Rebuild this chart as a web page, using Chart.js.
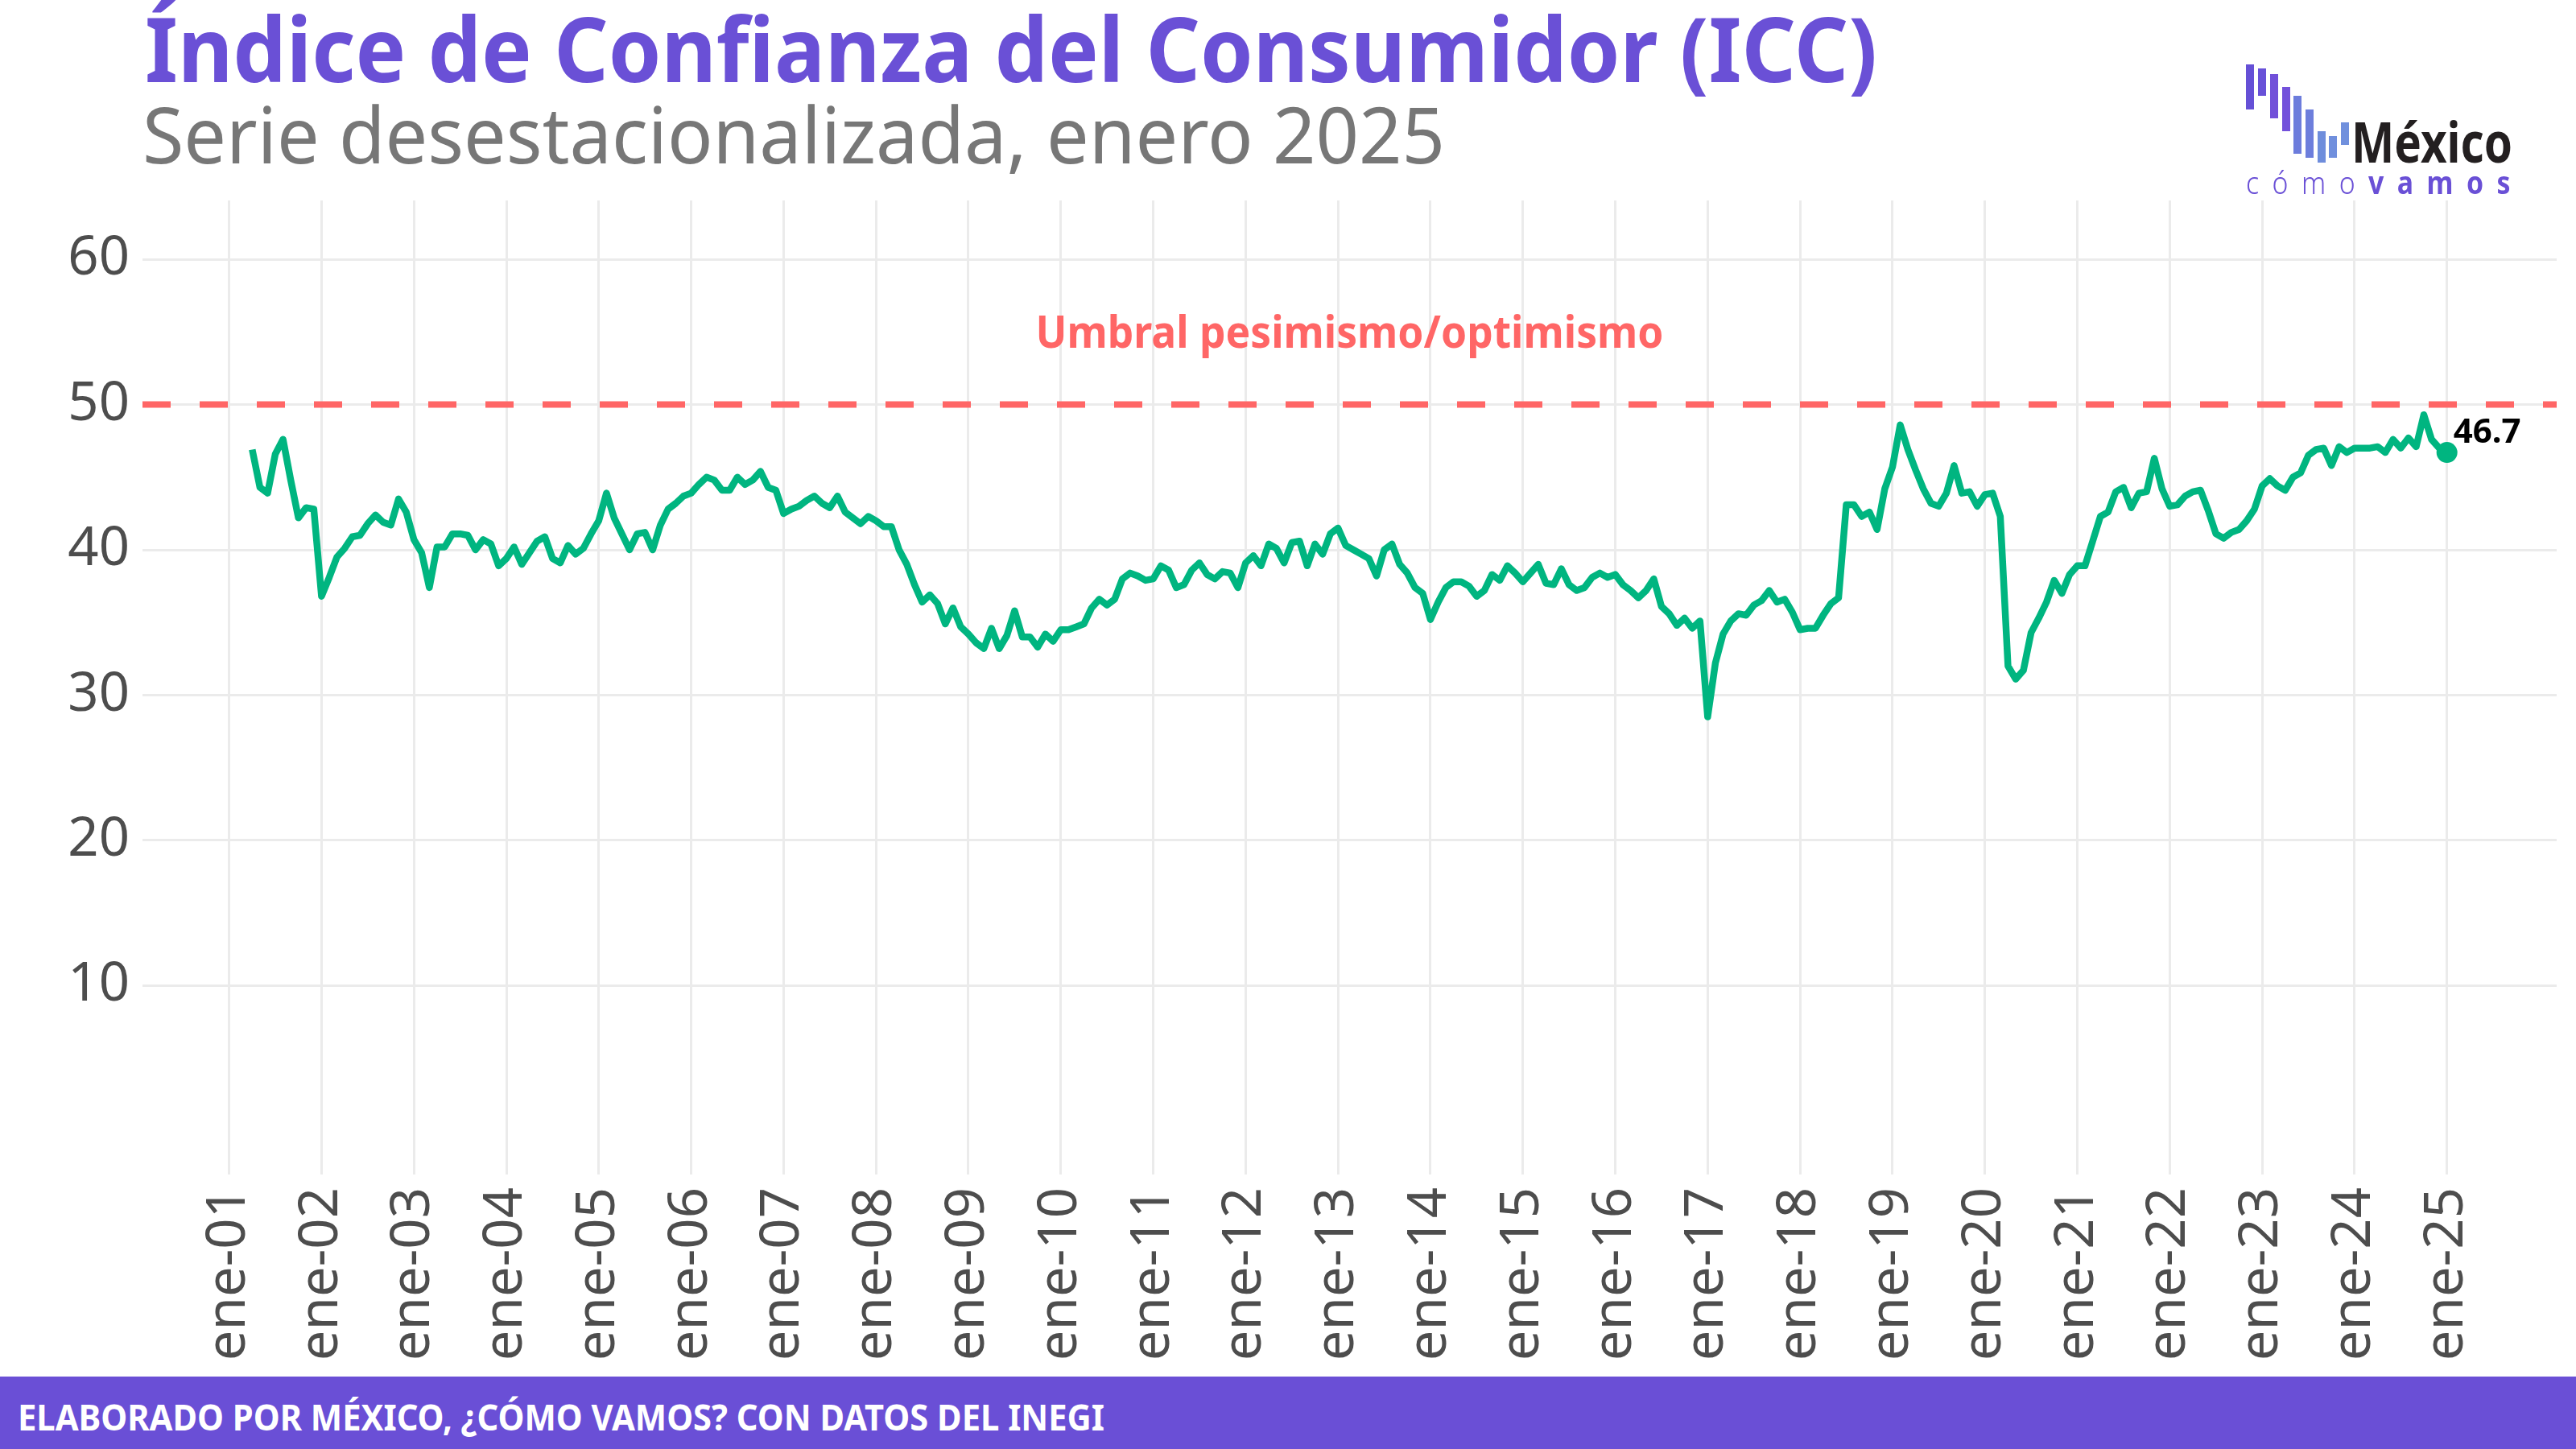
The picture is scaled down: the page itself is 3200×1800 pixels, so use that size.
<!DOCTYPE html>
<html lang="es">
<head>
<meta charset="utf-8">
<title>Índice de Confianza del Consumidor (ICC)</title>
<script src="https://cdn.jsdelivr.net/npm/chart.js@4.4.1/dist/chart.umd.min.js"></script>
<style>
  html, body { margin: 0; padding: 0; background: #fff; }
  body { width: 3200px; height: 1800px; position: relative; overflow: hidden; font-family: "Noto Sans", sans-serif; }
  #chart { position: absolute; left: 0; top: 0; }
  .txt { position: absolute; white-space: nowrap; line-height: 1; transform-origin: left center; }
  #title { left: 180px; top: 3px; font-size: 112px; font-weight: 700; color: #6a50d6; }
  #subtitle { left: 177px; top: 117px; font-size: 97px; font-weight: 400; color: #777; }
  #footer { position: absolute; left: 0; top: 1710px; width: 3200px; height: 90px; background: #6a4fd6; }
  #source { left: 22px; top: 1737px; font-size: 45px; font-weight: 700; color: #fff; }
  .bar { position: absolute; width: 10px; }
  #mexico { left: 2921px; top: 140px; font-size: 70px; font-weight: 700; color: #231f20; }
  #como { left: 2790px; top: 206px; font-size: 39px; color: #6a50d6; letter-spacing: 19px; }
  #como b { font-weight: 700; }
  #como span { font-weight: 300; }
</style>
</head>
<body>
<canvas id="chart" width="3200" height="1710"></canvas>

<div class="txt" id="title">Índice de Confianza del Consumidor (ICC)</div>
<div class="txt" id="subtitle">Serie desestacionalizada, enero 2025</div>

<div class="bar" style="left:2790px;top:80px;height:56px;background:#6550d6"></div>
<div class="bar" style="left:2805px;top:85px;height:34px;background:#6851d8"></div>
<div class="bar" style="left:2820px;top:92px;height:55px;background:#7150d9"></div>
<div class="bar" style="left:2835px;top:108px;height:55px;background:#7351db"></div>
<div class="bar" style="left:2849px;top:119px;height:72px;background:#6c7cdc"></div>
<div class="bar" style="left:2864px;top:136px;height:60px;background:#6d7edc"></div>
<div class="bar" style="left:2879px;top:163px;height:39px;background:#6e8ddc"></div>
<div class="bar" style="left:2893px;top:169px;height:27px;background:#708fdd"></div>
<div class="bar" style="left:2908px;top:152px;height:28px;background:#7090dd"></div>
<div class="txt" id="mexico">México</div>
<div class="txt" id="como"><span>cómo</span><b>vamos</b></div>

<div id="footer"></div>
<div class="txt" id="source">ELABORADO POR MÉXICO, ¿CÓMO VAMOS? CON DATOS DEL INEGI</div>

<script>
// serie mensual desde abril 2001 (indice de mes: 0 = enero 2001)
const startMonth = 3;
const icc = [
  46.9, 44.3, 43.9, 46.6, 47.6, 44.8, 42.2, 42.9, 42.8,                  // 2001 (abr-dic)
  36.8, 38.1, 39.5, 40.1, 40.9, 41.0, 41.8, 42.4, 41.9, 41.7, 43.5, 42.6, // 2002
  40.7, 39.8, 37.4, 40.2, 40.2, 41.1, 41.1, 41.0, 40.0, 40.7, 40.4, 38.9, // 2003
  39.4, 40.2, 39.0, 39.8, 40.6, 40.9, 39.4, 39.1, 40.3, 39.7, 40.1, 41.1, // 2004
  42.0, 43.9, 42.2, 41.1, 40.0, 41.1, 41.2, 40.0, 41.7, 42.8, 43.2, 43.7, // 2005
  43.9, 44.5, 45.0, 44.8, 44.1, 44.1, 45.0, 44.5, 44.8, 45.4, 44.3, 44.1, // 2006
  42.5, 42.8, 43.0, 43.4, 43.7, 43.2, 42.9, 43.7, 42.6, 42.2, 41.8, 42.3, // 2007
  42.0, 41.6, 41.6, 40.0, 39.0, 37.6, 36.4, 36.9, 36.3, 34.9, 36.0, 34.7, // 2008
  34.2, 33.6, 33.2, 34.6, 33.2, 34.1, 35.8, 34.0, 34.0, 33.3, 34.2, 33.7, // 2009
  34.5, 34.5, 34.7, 34.9, 36.0, 36.6, 36.2, 36.6, 38.0, 38.4, 38.2, 37.9, // 2010
  38.0, 38.9, 38.6, 37.4, 37.6, 38.6, 39.1, 38.3, 38.0, 38.5, 38.4, 37.4, // 2011
  39.1, 39.6, 38.9, 40.4, 40.1, 39.1, 40.5, 40.6, 38.9, 40.4, 39.7, 41.1, // 2012
  41.5, 40.3, 40.0, 39.7, 39.4, 38.2, 40.0, 40.4, 39.0, 38.4, 37.4, 37.0, // 2013
  35.2, 36.4, 37.4, 37.8, 37.8, 37.5, 36.8, 37.2, 38.3, 37.9, 38.9, 38.4, // 2014
  37.8, 38.4, 39.0, 37.7, 37.6, 38.7, 37.6, 37.2, 37.4, 38.1, 38.4, 38.1, // 2015
  38.3, 37.6, 37.2, 36.7, 37.2, 38.0, 36.1, 35.6, 34.8, 35.3, 34.6, 35.1, // 2016
  28.5, 32.2, 34.2, 35.1, 35.6, 35.5, 36.2, 36.5, 37.2, 36.4, 36.6, 35.7, // 2017
  34.5, 34.6, 34.6, 35.5, 36.3, 36.7, 43.1, 43.1, 42.3, 42.6, 41.4, 44.2, // 2018
  45.7, 48.6, 46.9, 45.5, 44.2, 43.2, 43.0, 43.9, 45.8, 43.9, 44.0, 43.0, // 2019
  43.8, 43.9, 42.3, 32.0, 31.1, 31.7, 34.3, 35.3, 36.4, 37.9, 37.0, 38.3, // 2020
  38.9, 38.9, 40.6, 42.3, 42.6, 44.0, 44.3, 42.9, 43.9, 44.0, 46.3, 44.2, // 2021
  43.0, 43.1, 43.7, 44.0, 44.1, 42.7, 41.1, 40.8, 41.2, 41.4, 42.0, 42.8, // 2022
  44.4, 44.9, 44.4, 44.1, 45.0, 45.3, 46.5, 46.9, 47.0, 45.8, 47.1, 46.7, // 2023
  47.0, 47.0, 47.0, 47.1, 46.7, 47.6, 47.0, 47.7, 47.1, 49.3, 47.6, 47.0, // 2024
  46.7                                                                   // 2025 (ene)
];
const xTickLabels = ["ene-01", "ene-02", "ene-03", "ene-04", "ene-05", "ene-06", "ene-07", "ene-08",
  "ene-09", "ene-10", "ene-11", "ene-12", "ene-13", "ene-14", "ene-15", "ene-16", "ene-17", "ene-18",
  "ene-19", "ene-20", "ene-21", "ene-22", "ene-23", "ene-24", "ene-25"];
const yTicks = [10, 20, 30, 40, 50, 60];
const threshold = 50;
const thresholdLabel = "Umbral pesimismo/optimismo";

const green = "#00b580";
const red = "#ff6666";
const tickColor = "#4d4d4d";
const gridColor = "#ebebeb";

const points = icc.map((v, i) => ({ x: startMonth + i, y: v }));
const firstX = startMonth;
const lastX = startMonth + icc.length - 1;
const span = lastX - firstX;
const xMin = firstX - span * 0.05;
const xMax = lastX + span * 0.05;

// fit html text widths to the reference
function fitWidth(id, w) {
  const el = document.getElementById(id);
  const r = el.getBoundingClientRect().width;
  el.style.transform = "scaleX(" + (w / r) + ")";
}
fitWidth("title", 2152);
fitWidth("subtitle", 1618);
fitWidth("source", 1350);
fitWidth("mexico", 200);
fitWidth("como", 345);

const labelsPlugin = {
  id: "labels",
  afterDatasetsDraw(chart) {
    const c = chart.ctx;
    const xs = chart.scales.x, ys = chart.scales.y;
    c.save();
    // umbral text
    c.font = "700 56px 'Noto Sans'";
    c.fillStyle = red;
    c.textBaseline = "alphabetic";
    const tw = c.measureText(thresholdLabel).width;
    const sx = 780 / tw;
    const cx = xs.getPixelForValue((xMin + xMax) / 2);
    c.translate(cx, ys.getPixelForValue(53.9));
    c.scale(sx, 1);
    c.textAlign = "center";
    c.fillText(thresholdLabel, 0, 0);
    c.restore();

    // last value
    c.save();
    const last = icc[icc.length - 1];
    c.font = "700 42px 'Noto Sans'";
    c.fillStyle = "#000";
    c.textAlign = "left";
    c.textBaseline = "alphabetic";
    c.fillText(last.toFixed(1), xs.getPixelForValue(lastX) + 8, ys.getPixelForValue(last) - 12);
    c.restore();
  }
};

new Chart(document.getElementById("chart"), {
  type: "line",
  data: {
    datasets: [
      {
        data: points,
        borderColor: green,
        borderWidth: 8.5,
        borderJoinStyle: "round",
        borderCapStyle: "butt",
        tension: 0,
        pointRadius: points.map((p, i) => i === points.length - 1 ? 13 : 0),
        pointBackgroundColor: green,
        pointBorderWidth: 0,
        order: 1
      },
      {
        data: [{ x: xMin, y: threshold }, { x: xMax, y: threshold }],
        borderColor: red,
        borderWidth: 8,
        borderDash: [35, 36],
        borderCapStyle: "butt",
        pointRadius: 0,
        order: 2
      }
    ]
  },
  options: {
    responsive: false,
    animation: false,
    devicePixelRatio: 1,
    layout: { padding: { top: 249, right: 24, left: 0, bottom: 0 } },
    plugins: { legend: { display: false }, tooltip: { enabled: false } },
    scales: {
      x: {
        type: "linear",
        min: xMin,
        max: xMax,
        afterBuildTicks: s => { s.ticks = xTickLabels.map((_, i) => ({ value: i * 12 })); },
        afterFit: s => { s.height = 251; },
        ticks: {
          autoSkip: false,
          minRotation: 90,
          maxRotation: 90,
          padding: 16,
          color: tickColor,
          font: { family: "Noto Sans", size: 67 },
          callback: (v, i) => xTickLabels[i]
        },
        grid: { color: gridColor, lineWidth: 3, drawTicks: false },
        border: { display: false }
      },
      y: {
        min: -3,
        max: 64.05,
        afterBuildTicks: s => { s.ticks = yTicks.map(v => ({ value: v })); },
        afterFit: s => { s.width = 177; },
        ticks: {
          padding: 16,
          color: tickColor,
          font: { family: "Noto Sans", size: 67 }
        },
        grid: { color: gridColor, lineWidth: 3, drawTicks: false },
        border: { display: false }
      }
    }
  },
  plugins: [labelsPlugin]
});
</script>
</body>
</html>
